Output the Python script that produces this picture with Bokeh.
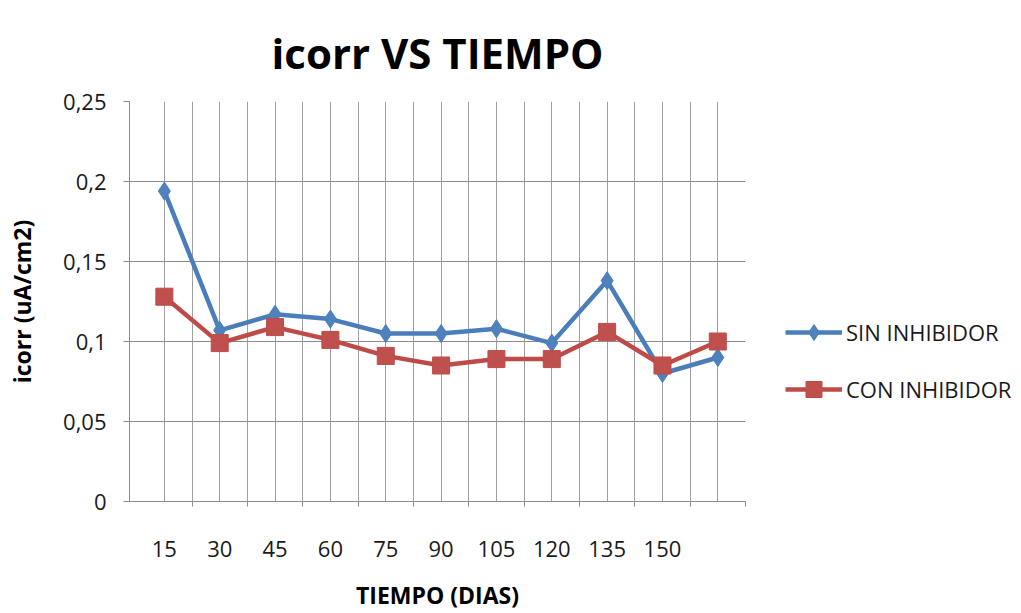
from bokeh.plotting import figure
from bokeh.models import FixedTicker, Range1d, Legend, LegendItem
from bokeh.embed import file_html
from bokeh.resources import INLINE

days = ["15", "30", "45", "60", "75", "90", "105", "120", "135", "150", ""]
sin_inhibidor = [0.194, 0.107, 0.117, 0.114, 0.105, 0.105, 0.108, 0.099, 0.138, 0.080, 0.090]
con_inhibidor = [0.128, 0.099, 0.109, 0.101, 0.091, 0.085, 0.089, 0.089, 0.106, 0.085, 0.100]
y_ticks = [0, 0.05, 0.1, 0.15, 0.2, 0.25]
y_labels = ["0", "0,05", "0,1", "0,15", "0,2", "0,25"]

FONT = "Open Sans"
xs = list(range(len(days)))

p = figure(frame_width=616, frame_height=400, output_backend="svg", toolbar_location=None,
           x_range=Range1d(-0.63, 10.5), y_range=Range1d(0, 0.25),
           min_border_left=129, min_border_right=262, min_border_top=101, min_border_bottom=106)

p.title.text = "icorr VS TIEMPO"
p.title.text_font = FONT
p.title.text_font_size = "42px"
p.title.text_font_style = "bold"
p.title.align = "center"
p.title.vertical_align = "top"
p.title.text_color = "#000000"
p.title.standoff = 38

p.outline_line_color = None

# grids
p.xgrid.ticker = FixedTicker(ticks=[i * 0.5 for i in range(0, 22)])
p.ygrid.ticker = FixedTicker(ticks=y_ticks)
p.xgrid.grid_line_color = "#a0a0a0"
p.ygrid.grid_line_color = "#8c8c8c"
p.xgrid.grid_line_width = 1
p.ygrid.grid_line_width = 1

# x axis
p.xaxis.ticker = FixedTicker(ticks=xs[:10], minor_ticks=[i + 0.5 for i in range(0, 11)])
p.xaxis.major_label_overrides = {i: days[i] for i in xs}
p.xaxis.major_tick_out = 0
p.xaxis.major_tick_in = 0
p.xaxis.minor_tick_out = 5
p.xaxis.minor_tick_in = 0
p.xaxis.minor_tick_line_color = "#8c8c8c"
p.xaxis.axis_line_color = "#8c8c8c"
p.xaxis.major_label_standoff = 34
p.xaxis.major_label_text_font = FONT
p.xaxis.major_label_text_font_size = "22px"
p.xaxis.major_label_text_color = "#1a1a1a"
p.xaxis.axis_label = "TIEMPO (DIAS)"
p.xaxis.axis_label_text_font = FONT
p.xaxis.axis_label_text_font_size = "23px"
p.xaxis.axis_label_text_font_style = "bold"
p.xaxis.axis_label_text_color = "#000000"
p.xaxis.axis_label_standoff = 19

# y axis
p.yaxis.ticker = FixedTicker(ticks=y_ticks)
p.yaxis.major_label_overrides = {t: l for t, l in zip(y_ticks, y_labels)}
p.yaxis.major_tick_out = 6
p.yaxis.major_tick_in = 0
p.yaxis.minor_tick_line_color = None
p.yaxis.major_tick_line_color = "#8c8c8c"
p.yaxis.axis_line_color = "#8c8c8c"
p.yaxis.major_label_standoff = 17
p.yaxis.major_label_text_font = FONT
p.yaxis.major_label_text_font_size = "22px"
p.yaxis.major_label_text_color = "#1a1a1a"
p.yaxis.axis_label = "icorr (uA/cm2)"
p.yaxis.axis_label_text_font = FONT
p.yaxis.axis_label_text_font_size = "23px"
p.yaxis.axis_label_text_font_style = "bold"
p.yaxis.axis_label_text_color = "#000000"
p.yaxis.axis_label_standoff = 22

BLUE = "#4a7ebb"
RED = "#be4b48"

l1 = p.line(xs, sin_inhibidor, line_color=BLUE, line_width=4.5)
m1 = p.scatter(xs, sin_inhibidor, marker="diamond", size=18, fill_color="#4f81bd", line_color=BLUE)
l2 = p.line(xs, con_inhibidor, line_color=RED, line_width=4.5)
m2 = p.scatter(xs, con_inhibidor, marker="square", size=17, fill_color="#c0504d", line_color=RED)

legend = Legend(items=[LegendItem(label="SIN INHIBIDOR", renderers=[l1, m1]),
                       LegendItem(label="CON INHIBIDOR", renderers=[l2, m2])],
                location=(40, 92), orientation="vertical",
                glyph_width=57, glyph_height=40, spacing=17, padding=0, margin=0,
                label_standoff=4, label_text_font=FONT, label_text_font_size="22px",
                label_text_color="#1a1a1a",
                border_line_color=None, background_fill_alpha=0)
p.add_layout(legend, "right")

open("out.html", "w").write(file_html(p, INLINE))
